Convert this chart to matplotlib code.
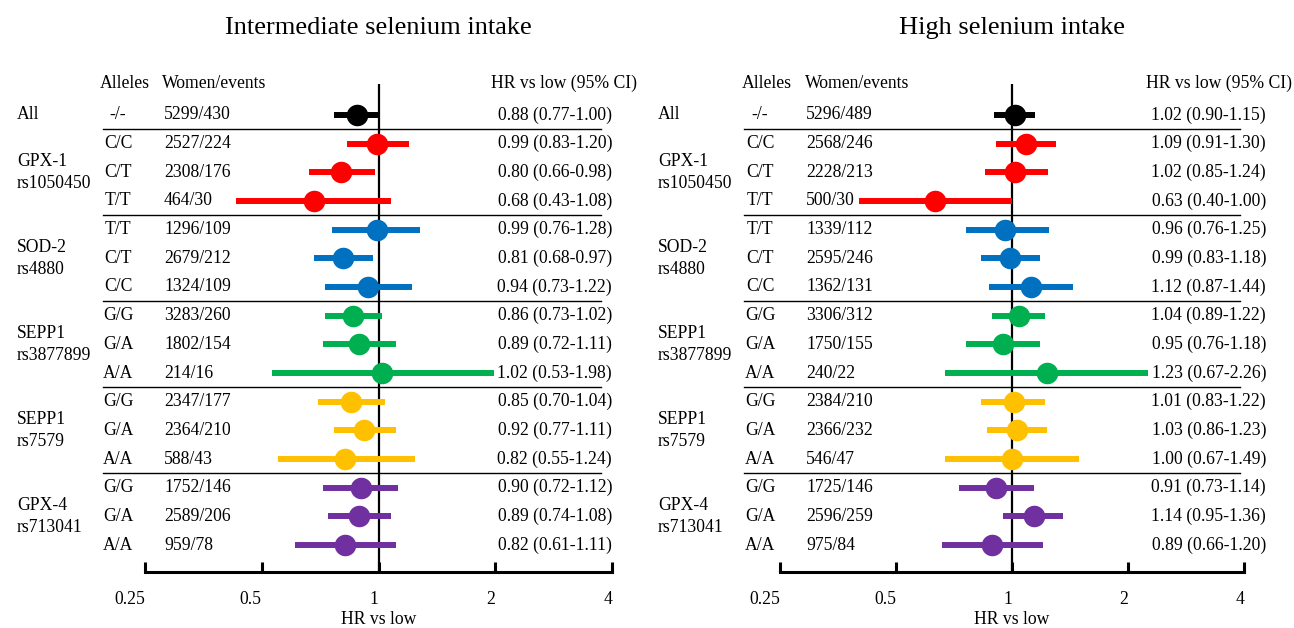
import numpy as np
import matplotlib
matplotlib.use('Agg')
import matplotlib.pyplot as plt
from matplotlib.transforms import blended_transform_factory

plt.rcParams['font.family'] = ['Liberation Serif', 'DejaVu Serif']

group_labels = ['All', 'GPX-1\nrs1050450', 'SOD-2\nrs4880', 'SEPP1\nrs3877899', 'SEPP1\nrs7579', 'GPX-4\nrs713041']
group_rows = [0, 2, 5, 8, 11, 14]
alleles = ['-/-', 'C/C', 'C/T', 'T/T', 'T/T', 'C/T', 'C/C', 'G/G', 'G/A', 'A/A',
           'G/G', 'G/A', 'A/A', 'G/G', 'G/A', 'A/A']
colors = ['black'] + ['#FF0000'] * 3 + ['#0070C0'] * 3 + ['#00B050'] * 3 + ['#FFC000'] * 3 + ['#7030A0'] * 3

# intermediate selenium intake
mid_counts = ['5299/430', '2527/224', '2308/176', '464/30', '1296/109', '2679/212', '1324/109',
              '3283/260', '1802/154', '214/16', '2347/177', '2364/210', '588/43',
              '1752/146', '2589/206', '959/78']
mid_hr = [0.88, 0.99, 0.80, 0.68, 0.99, 0.81, 0.94, 0.86, 0.89, 1.02, 0.85, 0.92, 0.82, 0.90, 0.89, 0.82]
mid_lo = [0.77, 0.83, 0.66, 0.43, 0.76, 0.68, 0.73, 0.73, 0.72, 0.53, 0.70, 0.77, 0.55, 0.72, 0.74, 0.61]
mid_hi = [1.00, 1.20, 0.98, 1.08, 1.28, 0.97, 1.22, 1.02, 1.11, 1.98, 1.04, 1.11, 1.24, 1.12, 1.08, 1.11]

# high selenium intake
high_counts = ['5296/489', '2568/246', '2228/213', '500/30', '1339/112', '2595/246', '1362/131',
               '3306/312', '1750/155', '240/22', '2384/210', '2366/232', '546/47',
               '1725/146', '2596/259', '975/84']
high_hr = [1.02, 1.09, 1.02, 0.63, 0.96, 0.99, 1.12, 1.04, 0.95, 1.23, 1.01, 1.03, 1.00, 0.91, 1.14, 0.89]
high_lo = [0.90, 0.91, 0.85, 0.40, 0.76, 0.83, 0.87, 0.89, 0.76, 0.67, 0.83, 0.86, 0.67, 0.73, 0.95, 0.66]
high_hi = [1.15, 1.30, 1.24, 1.00, 1.25, 1.18, 1.44, 1.22, 1.18, 2.26, 1.22, 1.23, 1.49, 1.14, 1.36, 1.20]

separators = [0.5, 3.5, 6.5, 9.5, 12.5]
ticks = [0.25, 0.5, 1, 2, 4]

W, H = 1294, 628
fig = plt.figure(figsize=(W / 100, H / 100), dpi=100)


def panel(x0, x1, title, counts, hr, lo, hi, px):
    # px: pixel positions of text columns
    ax = fig.add_axes([x0 / W, (H - 572) / H, (x1 - x0) / W, (572 - 84) / H])
    ax.set_xscale('log', base=2)
    ax.set_xlim(0.25, 4)
    ax.set_ylim(15.94, -1.08)
    ax.axvline(1, color='black', lw=1.6, zorder=1)
    y = np.arange(len(hr))
    for i in range(len(hr)):
        ax.plot([lo[i], hi[i]], [y[i], y[i]], color=colors[i], lw=4.3, solid_capstyle='butt', zorder=2, clip_on=False)
        ax.plot(hr[i], y[i], 'o', color=colors[i], ms=14.5, zorder=3, clip_on=False)
    for s in ['top', 'left', 'right']:
        ax.spines[s].set_visible(False)
    ax.spines['bottom'].set_linewidth(2.2)
    ax.set_yticks([])
    ax.set_xticks(ticks)
    ax.set_xticklabels(['0.25', '0.5', '1', '2', '4'], ha='right')
    ax.xaxis.set_minor_locator(plt.NullLocator())
    ax.tick_params(axis='x', direction='in', length=7, width=2.2, pad=14, labelsize=12.7)
    ax.set_xlabel('HR vs low', fontsize=12.7, labelpad=2)
    fig.text((x0 + x1) / 2 / W, 1 - 28 / H, title, ha='center', va='center', fontsize=19)

    tr = blended_transform_factory(fig.transFigure, ax.transData)
    fs = 12.7
    hy = -1.1
    ax.text(px['alle_h'] / W, hy, 'Alleles', transform=tr, ha='left', va='center', fontsize=fs)
    ax.text(px['cnt_h'] / W, hy, 'Women/events', transform=tr, ha='left', va='center', fontsize=fs)
    ax.text(px['hr_h'] / W, hy, 'HR vs low (95% CI)', transform=tr, ha='right', va='center', fontsize=fs)
    for lab, r in zip(group_labels, group_rows):
        ax.text(px['grp'] / W, r, lab, transform=tr, ha='left', va='center', fontsize=fs, linespacing=1.4)
    for i in range(len(hr)):
        ax.text(px['alle'] / W, y[i], alleles[i], transform=tr, ha='center', va='center', fontsize=fs)
        ax.text(px['cnt'] / W, y[i], counts[i], transform=tr, ha='left', va='center', fontsize=fs)
        ax.text(px['hr'] / W, y[i], '%.2f (%.2f-%.2f)' % (hr[i], lo[i], hi[i]),
                transform=tr, ha='right', va='center', fontsize=fs)
    for s in separators:
        ax.plot([px['sep0'] / W, px['sep1'] / W], [s, s], transform=tr, color='black', lw=1.0, clip_on=False)
    return ax


panel(145, 612, 'Intermediate selenium intake', mid_counts, mid_hr, mid_lo, mid_hi,
      dict(grp=17, alle_h=100, alle=118, cnt_h=162, cnt=164, hr_h=637, hr=612, sep0=103, sep1=601))
panel(780, 1244, 'High selenium intake', high_counts, high_hr, high_lo, high_hi,
      dict(grp=658, alle_h=742, alle=760, cnt_h=805, cnt=806, hr_h=1292, hr=1266, sep0=744, sep1=1240))

fig.savefig('out.png', dpi=100)
